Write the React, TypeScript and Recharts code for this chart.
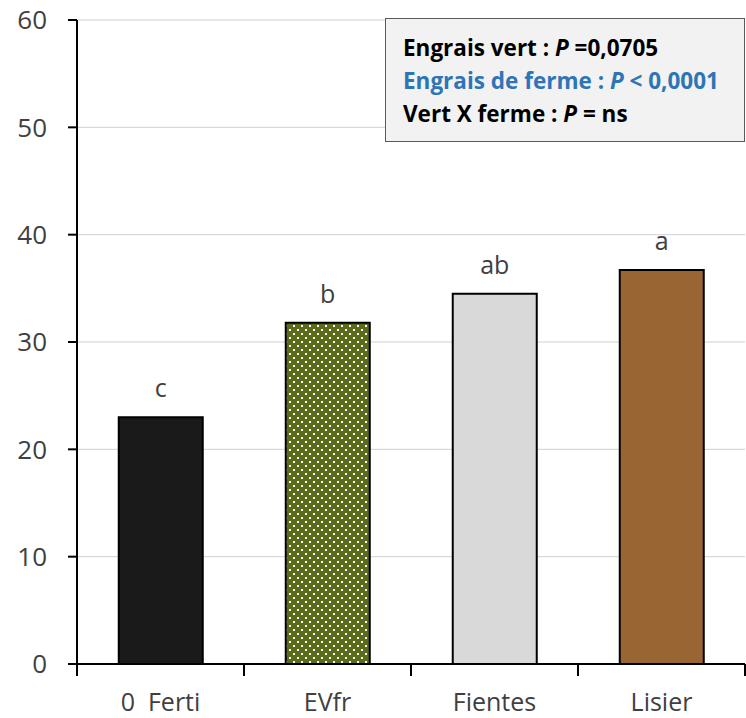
import React from 'react';
import { BarChart, Bar, XAxis, YAxis, CartesianGrid, Cell, LabelList } from 'recharts';

const categories = ['0  Ferti', 'EVfr', 'Fientes', 'Lisier'];
const values = [23.0, 31.8, 34.5, 36.7];
const letters = ['c', 'b', 'ab', 'a'];
const fills = ['#1a1a1a', 'url(#dots)', '#d9d9d9', '#996633'];
const yTicks = [0, 10, 20, 30, 40, 50, 60];

const data = categories.map((name, i) => ({ name, value: values[i], letter: letters[i] }));

const W = 746;
const H = 718;
const LEFT = 77;
const RIGHT = 1;
const halfBand = (W - LEFT - RIGHT) / categories.length / 2;
const FONT = "'Open Sans', sans-serif";

const XTick = (props: any) => {
  const { x, y, payload, index } = props;
  const last = index === categories.length - 1;
  return (
    <g>
      <line x1={x - halfBand} x2={x - halfBand} y1={y - 8} y2={y + 4} stroke="#000" strokeWidth={2} />
      {last && <line x1={x + halfBand} x2={x + halfBand} y1={y - 8} y2={y + 4} stroke="#000" strokeWidth={2} />}
      <text x={x} y={y + 39} textAnchor="middle" fontSize={25} fill="#404040" fontFamily={FONT} style={{ whiteSpace: 'pre' }}>
        {payload.value}
      </text>
    </g>
  );
};

const YTick = (props: any) => {
  const { x, y, payload } = props;
  return (
    <text x={x - 19} y={y} dy="0.36em" textAnchor="end" fontSize={26} fill="#404040" fontFamily={FONT}>
      {payload.value}
    </text>
  );
};

export default function App() {
  return (
    <div style={{ position: 'absolute', left: 0, top: 0, width: W, height: H, background: '#fff' }}>
      <BarChart width={W} height={H} data={data} margin={{ top: 20, right: RIGHT, left: 0, bottom: 0 }} barCategoryGap="25%">
        <defs>
          <pattern id="dots" width={8} height={8} patternUnits="userSpaceOnUse">
            <rect width={8} height={8} fill="#5a6b1a" />
            <rect x={1} y={1} width={2} height={2} fill="#fff" />
            <rect x={5} y={5} width={2} height={2} fill="#fff" />
          </pattern>
        </defs>
        <CartesianGrid vertical={false} stroke="#d0d0d0" strokeWidth={1} />
        <XAxis
          dataKey="name"
          height={54}
          axisLine={{ stroke: '#000', strokeWidth: 2 }}
          tickLine={false}
          tick={<XTick />}
          interval={0}
        />
        <YAxis
          width={LEFT}
          domain={[0, 60]}
          ticks={yTicks}
          axisLine={{ stroke: '#000', strokeWidth: 2 }}
          tickLine={{ stroke: '#000', strokeWidth: 2 }}
          tickSize={9}
          tick={<YTick />}
        />
        <Bar dataKey="value" stroke="#000" strokeWidth={2} isAnimationActive={false}>
          {data.map((d, i) => (
            <Cell key={d.name} fill={fills[i]} />
          ))}
          <LabelList dataKey="letter" position="top" offset={20} fontSize={25} fill="#404040" fontFamily={FONT} />
        </Bar>
      </BarChart>
      <div
        style={{
          position: 'absolute',
          left: 385,
          top: 18,
          width: 360,
          height: 124,
          boxSizing: 'border-box',
          background: '#f2f2f2',
          border: '1.5px solid #595959',
          fontFamily: FONT,
          fontWeight: 700,
          fontSize: 22.5,
          lineHeight: '33px',
          padding: '12px 0 0 17px',
          whiteSpace: 'nowrap',
        }}
      >
        <div style={{ color: '#000' }}>Engrais vert : <i>P</i> =0,0705</div>
        <div style={{ color: '#2e75b6' }}>Engrais de ferme : <i>P</i> &lt; 0,0001</div>
        <div style={{ color: '#000' }}>Vert X ferme : <i>P</i> = ns</div>
      </div>
    </div>
  );
}
